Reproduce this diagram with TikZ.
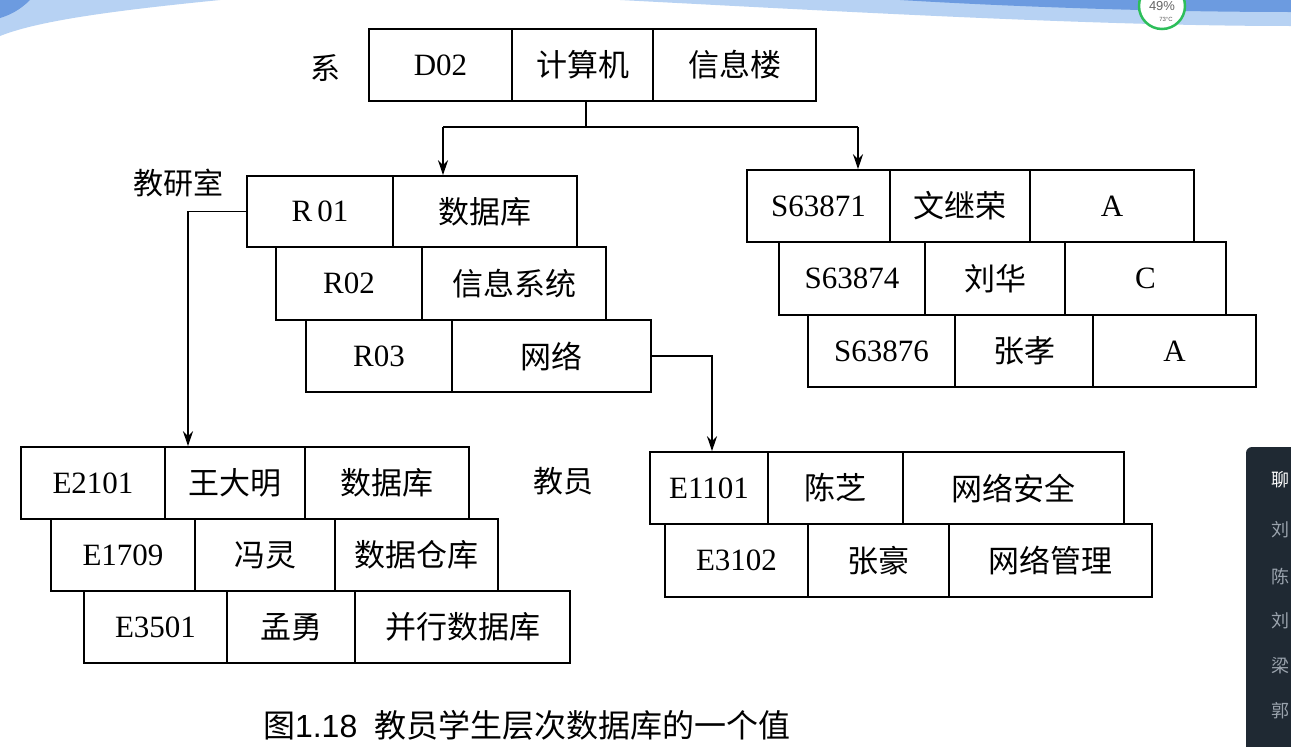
\documentclass[tikz,border=0pt]{standalone}
\usepackage{fontspec}
\setmainfont{Liberation Serif}
\newfontfamily\cjk{Noto Sans CJK SC}
\newfontfamily\sanslat{Liberation Sans}
\usetikzlibrary{arrows.meta}
\definecolor{bandlight}{HTML}{B7D2F3}
\definecolor{banddark}{HTML}{6C9BE0}
\definecolor{panelbg}{HTML}{1F2933}
\definecolor{paneltxt}{HTML}{9AA3AD}
\definecolor{badgegreen}{HTML}{2DBE5A}
\tikzset{
  cell/.style={draw, line width=1.6pt, inner sep=0pt, font=\fontsize{31}{31}\selectfont},
  lbl/.style={inner sep=0pt, font=\cjk\fontsize{30}{30}\selectfont},
  conn/.style={line width=1.6pt},
  arr/.style={line width=1.6pt, -{Stealth[length=15pt,width=10pt]}},
  ptxt/.style={anchor=west, inner sep=0pt, text=paneltxt, font=\cjk\fontsize{18}{18}\selectfont}
}
\newcommand\mycell[6]{\node[cell, minimum width={#3-#2}, minimum height={#5-#4}] (#1) at ({(#2+#3)/2},{(#4+#5)/2}) {#6};}
\begin{document}
\begin{tikzpicture}[x=1pt,y=-1pt]
\useasboundingbox (0,0) rectangle (1291,747);
\fill[white] (0,0) rectangle (1291,747);
% screen artefacts
\begin{scope}
\clip (0,0) rectangle (1291,747);
\fill[bandlight] (0,0) -- (220,0) .. controls (120,10) and (40,20) .. (0,36) -- cycle;
\fill[banddark] (0,0) -- (30,0) .. controls (20,10) and (10,15) .. (0,18) -- cycle;
\fill[bandlight] (620,0) -- (1291,0) -- (1291,26) .. controls (1100,26) and (850,12) .. (620,0) -- cycle;
\fill[banddark] (900,0) -- (1291,0) -- (1291,12) .. controls (1150,12) and (1000,6) .. (900,0) -- cycle;
\node[circle, fill=white, draw=badgegreen, line width=2.5pt, minimum size=46pt, inner sep=0pt] (badge) at (1162,6) {};
\node[inner sep=0pt, text=gray!80!black, font=\sanslat\fontsize{13}{13}\selectfont] (badget) at (1162,6) {49\%};
\node[inner sep=0pt, text=gray!70!black, font=\sanslat\fontsize{6}{6}\selectfont] (badgec) at (1166,19) {73°C};
\fill[panelbg, rounded corners=6pt] (1246,447) rectangle (1310,770);
\node[ptxt, text=white] (p0) at (1271,480) {聊};
\node[ptxt] (p1) at (1271,530) {刘};
\node[ptxt] (p2) at (1271,577) {陈};
\node[ptxt] (p3) at (1271,621) {刘};
\node[ptxt] (p4) at (1271,666) {梁};
\node[ptxt] (p5) at (1271,711) {郭};
\end{scope}
% labels
\node[lbl] (lx) at (325,68) {系};
\node[lbl] (ljy) at (178,183) {教研室};
\node[lbl] (ljs) at (563,481) {教员};
% department
\mycell{xa}{369}{512}{29}{101}{D02}
\mycell{xb}{512}{653}{29}{101}{\cjk 计算机}
\mycell{xc}{653}{816}{29}{101}{\cjk 信息楼}
% teaching groups
\mycell{r1a}{247}{393}{176}{247}{R\,01}
\mycell{r1b}{393}{577}{176}{247}{\cjk 数据库}
\mycell{r2a}{276}{422}{247}{320}{R02}
\mycell{r2b}{422}{606}{247}{320}{\cjk 信息系统}
\mycell{r3a}{306}{452}{320}{392}{R03}
\mycell{r3b}{452}{651}{320}{392}{\cjk 网络}
% students
\mycell{s1a}{747}{890}{170}{242}{S63871}
\mycell{s1b}{890}{1030}{170}{242}{\cjk 文继荣}
\mycell{s1c}{1030}{1194}{170}{242}{A}
\mycell{s2a}{779}{925}{242}{315}{S63874}
\mycell{s2b}{925}{1065}{242}{315}{\cjk 刘华}
\mycell{s2c}{1065}{1226}{242}{315}{C}
\mycell{s3a}{808}{955}{315}{387}{S63876}
\mycell{s3b}{955}{1093}{315}{387}{\cjk 张孝}
\mycell{s3c}{1093}{1256}{315}{387}{A}
% teachers (left)
\mycell{e1a}{21}{165}{447}{519}{E2101}
\mycell{e1b}{165}{305}{447}{519}{\cjk 王大明}
\mycell{e1c}{305}{469}{447}{519}{\cjk 数据库}
\mycell{e2a}{51}{195}{519}{591}{E1709}
\mycell{e2b}{195}{335}{519}{591}{\cjk 冯灵}
\mycell{e2c}{335}{498}{519}{591}{\cjk 数据仓库}
\mycell{e3a}{84}{227}{591}{663}{E3501}
\mycell{e3b}{227}{355}{591}{663}{\cjk 孟勇}
\mycell{e3c}{355}{570}{591}{663}{\cjk 并行数据库}
% teachers (right)
\mycell{f1a}{650}{768}{452}{524}{E1101}
\mycell{f1b}{768}{903}{452}{524}{\cjk 陈芝}
\mycell{f1c}{903}{1124}{452}{524}{\cjk 网络安全}
\mycell{f2a}{665}{808}{524}{597}{E3102}
\mycell{f2b}{808}{949}{524}{597}{\cjk 张豪}
\mycell{f2c}{949}{1152}{524}{597}{\cjk 网络管理}
% connectors
\coordinate (jm) at (586,101);
\coordinate (jc) at (586,127);
\coordinate (jl) at (443,127);
\coordinate (jr) at (858,127);
\coordinate (cl) at (188,0);
\coordinate (cr) at (712,0);
\draw[conn] (jm) -- (jc);
\draw[conn] (jl) -- (jr);
\draw[arr] (jl) -- (jl |- r1b.north);
\draw[arr] (jr) -- (jr |- s1a.north);
\draw[arr] (r1a.west) -- (r1a.west -| cl) -- (cl |- e1b.north);
\draw[arr] (r3b.east) -- (r3b.east -| cr) -- (cr |- f1a.north);
% caption
\node[inner sep=0pt, font=\fontsize{32}{32}\selectfont] (cap) at (527,725) {{\cjk 图}{\sanslat 1.18}\hspace{0.55em}{\cjk 教员学生层次数据库的一个值}};
\end{tikzpicture}
\end{document}
